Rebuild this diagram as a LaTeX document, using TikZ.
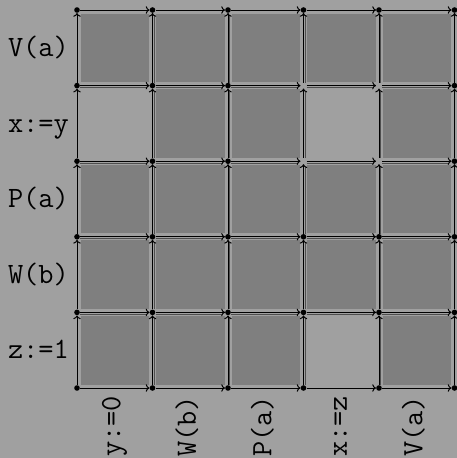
\documentclass[tikz,border=0pt]{standalone}
\usepackage{fontspec}
\usetikzlibrary{arrows.meta}
\definecolor{bg}{HTML}{A0A0A0}
\definecolor{cellc}{HTML}{7F7F7F}
\definecolor{shadec}{HTML}{4E4E4E}
\begin{document}
\begin{tikzpicture}[x=1pt,y=-1pt,
  pt/.style={circle,inner sep=0pt,minimum size=5.6pt},
  edge/.style={line width=1pt,-{To[length=3.8pt,width=7.5pt]}},
  shadeline/.style={line width=0.9pt,shadec,shorten >=3pt},
  lab/.style={font=\fontsize{29.5}{32}\selectfont\ttfamily,inner sep=0pt,text height=21pt,text depth=6pt}]
\useasboundingbox[fill=bg] (0,0) rectangle (457,458);
% dark cells
\foreach \c/\r in {0/0,1/0,2/0,3/0,4/0, 1/1,2/1,4/1, 0/2,1/2,2/2,3/2,4/2, 0/3,1/3,2/3,3/3,4/3, 0/4,1/4,2/4,4/4}{
  \fill[cellc] ({77+75.5*\c+3.5},{10+75.6*\r+3.5}) rectangle ({77+75.5*(\c+1)-3.5},{10+75.6*(\r+1)-3.5});
}
% grid points
\foreach \i in {0,...,5}{
  \foreach \j in {0,...,5}{
    \node[pt] (p\i\j) at ({77+75.5*\i},{10+75.6*\j}) {};
  }
}
% interior shade lines
\foreach \i [evaluate=\i as \ni using int(\i+1)] in {0,...,4}{
  \foreach \j in {1,...,4}{
    \draw[shadeline] ([yshift=-1.8pt]p\i\j.east) -- ([yshift=-1.8pt]p\ni\j.west);
  }
}
\foreach \i in {1,...,4}{
  \foreach \j [evaluate=\j as \nj using int(\j+1)] in {0,...,4}{
    \draw[shadeline] ([xshift=1.8pt]p\i\nj.north) -- ([xshift=1.8pt]p\i\j.south);
  }
}
% horizontal edges
\foreach \i [evaluate=\i as \ni using int(\i+1)] in {0,...,4}{
  \foreach \j in {0,...,5}{
    \draw[edge] (p\i\j) -- (p\ni\j);
  }
}
% vertical edges (upwards)
\foreach \i in {0,...,5}{
  \foreach \j [evaluate=\j as \nj using int(\j+1)] in {0,...,4}{
    \draw[edge] (p\i\nj) -- (p\i\j);
  }
}
% dots
\foreach \i in {0,...,5}{
  \foreach \j in {0,...,5}{
    \pgfmathtruncatemacro\miss{((\i==3)||(\i==4))&&((\j==1)||(\j==2))}
    \ifnum\miss=0 \fill (p\i\j) circle (2.8pt);\fi
  }
}
% row labels
\node[lab,anchor=east] (r0) at (69,49) {V(a)};
\node[lab,anchor=east] (r1) at (69,124.6) {x:=y};
\node[lab,anchor=east] (r2) at (69,200.2) {P(a)};
\node[lab,anchor=east] (r3) at (69,275.8) {W(b)};
\node[lab,anchor=east] (r4) at (69,351.4) {z:=1};
% column labels
\node[lab,rotate=90,anchor=east] (c0) at (112.75,396) {y:=0};
\node[lab,rotate=90,anchor=east] (c1) at (188.25,396) {W(b)};
\node[lab,rotate=90,anchor=east] (c2) at (263.75,396) {P(a)};
\node[lab,rotate=90,anchor=east] (c3) at (339.25,396) {x:=z};
\node[lab,rotate=90,anchor=east] (c4) at (414.75,396) {V(a)};
\end{tikzpicture}
\end{document}
